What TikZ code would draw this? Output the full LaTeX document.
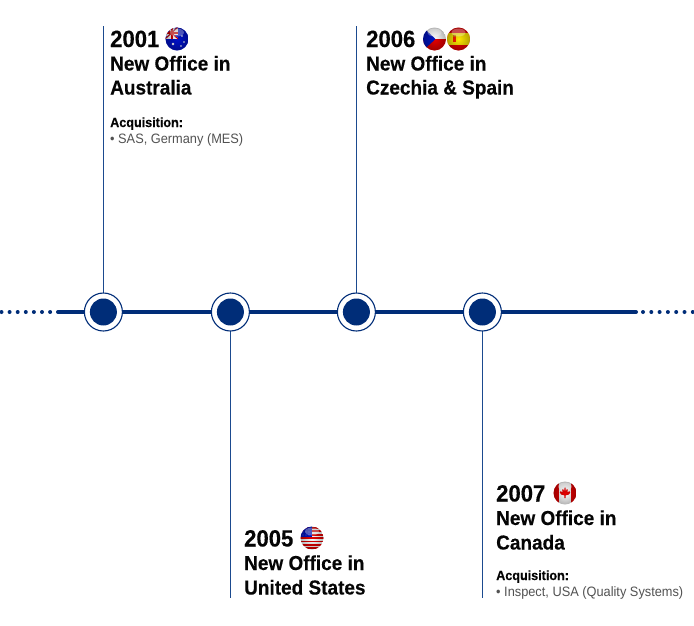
\documentclass[tikz,border=0pt]{standalone}
\usepackage{fontspec}
\setmainfont[FakeStretch=0.94,BoldFeatures={FakeBold=0.25}]{Liberation Sans}
\usetikzlibrary{fadings}
\definecolor{navy}{HTML}{002D78}
\definecolor{stem}{HTML}{1B4A8F}
\definecolor{inktxt}{HTML}{050505}
\tikzfading[name=ballfade,inner color=transparent!100,outer color=transparent!70]
\newcommand{\flagball}[2]{%
  \begin{scope}[shift={(#1)}]
    \begin{scope}
      \clip (0,0) circle[radius=11.5];
      #2
      \fill[black,path fading=ballfade] (0,0) circle[radius=11.5];
      \fill[white,opacity=.3] (0,-6.5) ellipse[x radius=7,y radius=4];
    \end{scope}
  \end{scope}}
\tikzset{
  x=1pt,y=-1pt,
  year/.style={inner sep=0,anchor=base west,text=inktxt,font=\fontsize{23.5}{24}\selectfont\bfseries},
  head/.style={inner sep=0,anchor=base west,text=inktxt,font=\fontsize{20.2}{24}\selectfont\bfseries},
  acq/.style={inner sep=0,anchor=base west,text=inktxt,font=\fontsize{13.4}{16}\selectfont\bfseries},
  item/.style={inner sep=0,anchor=base west,text=black!68,font=\fontsize{13.6}{16}\selectfont},
  outerring/.style={circle,draw=navy,line width=1.1pt,fill=white,minimum size=38pt,inner sep=0},
  innerdot/.style={circle,fill=navy,minimum size=27pt,inner sep=0},
  stemline/.style={draw=stem,line width=1.2pt},
  axis/.style={draw=navy,line width=4pt,line cap=round},
  dotline/.style={fill=navy}
}
\begin{document}
\begin{tikzpicture}
\useasboundingbox[fill=white] (0,0) rectangle (694,625);
% axis
\coordinate (axisL) at (58,312);
\coordinate (axisR) at (636,312);
\draw[axis] (axisL) -- (axisR);
\foreach \i in {0,...,6} {
  \fill[dotline] ({1.5+8.1*\i},312) circle[radius=2];
  \fill[dotline] ({643+8.3*\i},312) circle[radius=2];
}
% stem ends
\coordinate (t1) at (103.4,26);
\coordinate (t3) at (356.4,26);
\coordinate (b2) at (230.4,598);
\coordinate (b4) at (482.4,598);
\coordinate (p1) at (103.4,312);
\coordinate (p2) at (230.4,312);
\coordinate (p3) at (356.4,312);
\coordinate (p4) at (482.4,312);
\draw[stemline] (t1) -- (p1);
\draw[stemline] (t3) -- (p3);
\draw[stemline] (p2) -- (b2);
\draw[stemline] (p4) -- (b4);
% milestones
\node[outerring] (r1) at (p1) {}; \node[innerdot] (d1) at (p1) {};
\node[outerring] (r2) at (p2) {}; \node[innerdot] (d2) at (p2) {};
\node[outerring] (r3) at (p3) {}; \node[innerdot] (d3) at (p3) {};
\node[outerring] (r4) at (p4) {}; \node[innerdot] (d4) at (p4) {};
% 2001
\node[year] (y1) at (110,47) {2001};
\node[head] (h1a) at (110,70.5) {New Office in};
\node[head] (h1b) at (110,94.5) {Australia};
\node[acq] (a1) at (110,127) {Acquisition:};
\node[item] (i1) at (110,143) {• SAS, Germany (MES)};
% 2006
\node[year] (y3) at (366,47) {2006};
\node[head] (h3a) at (366,70.5) {New Office in};
\node[head] (h3b) at (366,94.5) {Czechia \& Spain};
% 2005
\node[year] (y2) at (244,546.5) {2005};
\node[head] (h2a) at (244,570) {New Office in};
\node[head] (h2b) at (244,594.5) {United States};
% 2007
\node[year] (y4) at (496,501.5) {2007};
\node[head] (h4a) at (496,525) {New Office in};
\node[head] (h4b) at (496,549.5) {Canada};
\node[acq] (a4) at (496,580) {Acquisition:};
\node[item] (i4) at (496,596) {• Inspect, USA (Quality Systems)};
% flags
\flagball{177,39}{%
  \fill[blue!60!navy] (-12,-12) rectangle (12,12);
  \fill[white] (-12,-12) rectangle (1,0);
  \fill[blue!60!navy] (-12,-10) -- (-3,-5) -- (-12,-8) -- cycle;
  \fill[blue!60!navy] (-9,-12) -- (-4,-7.5) -- (-6,-12) -- cycle;
  \fill[blue!60!navy] (-1,-12) -- (-4,-8) -- (1,-11) -- cycle;
  \fill[blue!60!navy] (1,-4) -- (-3,-4) -- (1,-1) -- cycle;
  \fill[blue!60!navy] (-12,-2) -- (-7,-4) -- (-12,0) -- cycle;
  \fill[red!85!black] (-12,-7) rectangle (1,-5);
  \fill[red!85!black] (-6.5,-12) rectangle (-4.5,0);
  \draw[red!85!black,line width=.9pt] (-12,-12) -- (1,0) (1,-12) -- (-12,0);
  \fill[white] (-4,5) circle[radius=1.3] (5,-3) circle[radius=.9] (7,3) circle[radius=.9] (4,7) circle[radius=.9];
}
\flagball{434.5,39}{%
  \fill[white] (-12,-12) rectangle (12,0);
  \fill[red!90!black] (-12,0) rectangle (12,12);
  \fill[blue!55!navy] (-12,-12) -- (1,0) -- (-12,12) -- cycle;
}
\flagball{458.5,39}{%
  \fill[red!90!black] (-12,-12) rectangle (12,12);
  \fill[yellow!90!orange] (-12,-6) rectangle (12,6);
  \fill[red!75!orange] (-6,-2.5) rectangle (-2.5,3);
  \fill[orange!85!black] (-5.5,-4.5) rectangle (-3,-2.5);
}
\flagball{312,538}{%
  \fill[white] (-12,-12) rectangle (12,12);
  \foreach \k in {-11,-7.6,-4.2,-0.8,2.6,6,9.4} {\fill[red!90!black] (-12,\k) rectangle (12,\k+1.7);}
  \fill[blue!60!navy] (-12,-12) rectangle (0,-1);
  \foreach \a in {-9,-6,-3} \foreach \b in {-9,-6,-3} {\fill[white] (\a,\b) circle[radius=.45];}
}
\flagball{565,493}{%
  \fill[white] (-12,-12) rectangle (12,12);
  \fill[red!90!black] (-12,-12) rectangle (-6,12);
  \fill[red!90!black] (6,-12) rectangle (12,12);
  \fill[red!90!black] (0,-6) -- (1.4,-3.2) -- (3,-4) -- (2.4,-.8) -- (4.6,-1.8) -- (5.2,-.4) -- (3.8,1.6) -- (.6,2.4) -- (.6,5) -- (-.6,5) -- (-.6,2.4) -- (-3.8,1.6) -- (-5.2,-.4) -- (-4.6,-1.8) -- (-2.4,-.8) -- (-3,-4) -- (-1.4,-3.2) -- cycle;
}
\end{tikzpicture}
\end{document}
